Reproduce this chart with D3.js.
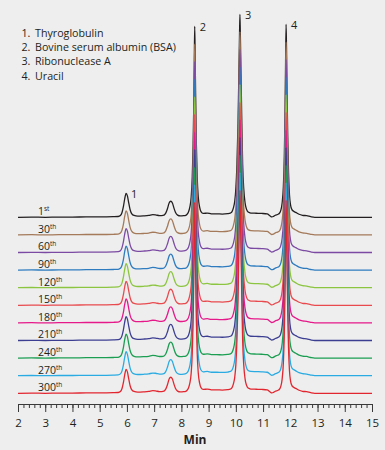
<!DOCTYPE html>
<html><head><meta charset="utf-8">
<script src="https://cdn.jsdelivr.net/npm/d3@7"></script>
<style>html,body{margin:0;padding:0;background:#eeeeee;}svg{display:block;}</style>
</head><body>
<script>
// ---- DATA ----
const injections = ["1", "30", "60", "90", "120", "150", "180", "210", "240", "270", "300"];
const suffixes = ["st", "th", "th", "th", "th", "th", "th", "th", "th", "th", "th"];
const traceColors = ["#231f20", "#a47a5a", "#7b4aa2", "#2e7cbf", "#8cc540", "#e84a4e", "#e5198a", "#3b3e91", "#1b9e52", "#2aabe2", "#e2262f"];
const legendItems = ["Thyroglobulin", "Bovine serum albumin (BSA)", "Ribonuclease A", "Uracil"];
const peakLabels = [["1", 5.97, 11.8], ["2", 8.49, 94], ["3", 10.15, 100], ["4", 11.845, 95]];
const xTicks = [2, 3, 4, 5, 6, 7, 8, 9, 10, 11, 12, 13, 14, 15];
// chromatogram profile (time in min, signal in relative units; peak 3 = 100)
const profile = [
  [2.0, 0], [2.5, 0.1], [3.0, 0], [3.5, 0.1], [4.0, 0.1], [4.5, 0.2], [5.0, 0.2], [5.5, 0.3], [5.68, 0.4],
  [5.76, 0.9], [5.82, 2.4], [5.87, 5.2], [5.92, 9.2], [5.97, 11.8], [6.02, 10.4], [6.07, 6.8], [6.12, 3.6], [6.18, 1.7], [6.26, 0.9],
  [6.4, 0.6], [6.6, 0.7], [6.8, 0.9], [6.95, 1.3], [7.05, 1.2], [7.2, 0.8], [7.33, 0.9],
  [7.42, 1.9], [7.49, 4.3], [7.55, 7.0], [7.61, 7.9], [7.67, 7.0], [7.73, 4.4], [7.79, 2.2], [7.86, 1.1], [7.96, 0.7], [8.08, 0.8], [8.16, 1.0],
  [8.21, 1.5], [8.26, 2.6], [8.31, 5], [8.36, 10], [8.40, 20], [8.43, 35], [8.455, 55], [8.475, 78], [8.49, 94], [8.505, 80], [8.525, 58], [8.55, 36], [8.58, 20], [8.62, 10], [8.67, 5], [8.72, 2.8],
  [8.8, 1.9], [8.95, 2.1], [9.1, 1.7], [9.3, 1.7], [9.5, 1.6], [9.7, 1.8], [9.8, 2.1],
  [9.86, 2.8], [9.91, 4.6], [9.96, 8], [10.0, 14], [10.04, 26], [10.08, 46], [10.11, 70], [10.135, 90], [10.15, 100], [10.165, 90], [10.19, 70], [10.22, 46], [10.25, 26], [10.29, 14], [10.34, 7], [10.39, 4], [10.45, 2.6],
  [10.55, 2.1], [10.75, 2.0], [10.95, 1.9], [11.15, 1.7], [11.25, 0.8], [11.32, 0.2], [11.38, 0.4], [11.45, 1.0], [11.53, 1.4], [11.6, 2.0],
  [11.65, 3.4], [11.7, 7], [11.745, 15], [11.78, 30], [11.805, 50], [11.825, 74], [11.845, 95], [11.86, 84], [11.88, 62], [11.905, 40], [11.935, 22], [11.97, 11], [12.01, 6], [12.06, 3.8],
  [12.12, 3.0], [12.2, 2.4], [12.32, 1.5], [12.45, 1.0], [12.6, 0.8], [12.75, 0.3], [12.9, 0], [13.5, 0], [14.0, 0], [14.5, 0], [15.0, 0]
];

// ---- CHART ----
const W = 385, H = 450;
const svg = d3.select("body").append("svg").attr("width", W).attr("height", H);
svg.append("rect").attr("width", W).attr("height", H).attr("fill", "#eeeeee");

const font = "'Open Sans', 'Noto Sans', sans-serif";
const x = d3.scaleLinear().domain([2, 15]).range([18, 372]);
const offset = d3.scalePoint().domain(injections).range([217.3, 393.3]);
const amp = d3.scaleLinear().domain([0, 100]).range([0, 203]);

injections.forEach((inj, i) => {
  const base = offset(inj);
  const line = d3.line()
    .x(d => x(d[0]))
    .y(d => base - amp(d[1]))
    .curve(d3.curveMonotoneX);
  svg.append("path")
    .attr("d", line(profile))
    .attr("fill", "none")
    .attr("stroke", traceColors[i])
    .attr("stroke-width", 1.3)
    .attr("stroke-linejoin", "round");
  const t = svg.append("text")
    .attr("x", 38).attr("y", base - 2.2)
    .attr("font-family", font).attr("font-size", 10.5).attr("fill", "#231f20");
  t.append("tspan").text(inj);
  t.append("tspan").attr("dy", -4).attr("font-size", 6.5).text(suffixes[i]);
});

// peak labels
const top0 = offset(injections[0]);
peakLabels.forEach(([lab, t, s]) => {
  svg.append("text")
    .attr("x", x(t) + 5).attr("y", top0 - amp(s) + 4.5)
    .attr("font-family", font).attr("font-size", 11).attr("fill", "#231f20")
    .text(lab);
});

// legend
legendItems.forEach((name, i) => {
  const y = 37 + i * 14.2;
  svg.append("text").attr("x", 21.5).attr("y", y)
    .attr("font-family", font).attr("font-size", 10.7).attr("fill", "#231f20")
    .text((i + 1) + ".");
  svg.append("text").attr("x", 35).attr("y", y)
    .attr("font-family", font).attr("font-size", 10.7).attr("fill", "#231f20")
    .text(name);
});

// axis
const axisY = 404;
const minor = svg.append("g").attr("transform", `translate(0,${axisY})`)
  .call(d3.axisBottom(x).tickValues(d3.range(2, 15.001, 0.2)).tickSize(4).tickFormat(""));
minor.select(".domain").remove();
const major = svg.append("g").attr("transform", `translate(0,${axisY})`)
  .call(d3.axisBottom(x).tickValues(xTicks).tickSize(8).tickSizeOuter(0).tickPadding(7).tickFormat(d3.format("d")));
svg.selectAll(".tick line").attr("stroke", "#3a3a3a").attr("stroke-width", 1);
major.select(".domain").attr("stroke", "#3a3a3a").attr("stroke-width", 1);
major.selectAll("text").attr("font-family", font).attr("font-size", 11.5).attr("fill", "#231f20");

svg.append("text").attr("x", x(8.5)).attr("y", 444)
  .attr("text-anchor", "middle")
  .attr("font-family", font).attr("font-size", 12).attr("font-weight", "bold").attr("fill", "#231f20")
  .text("Min");
</script>
</body></html>
